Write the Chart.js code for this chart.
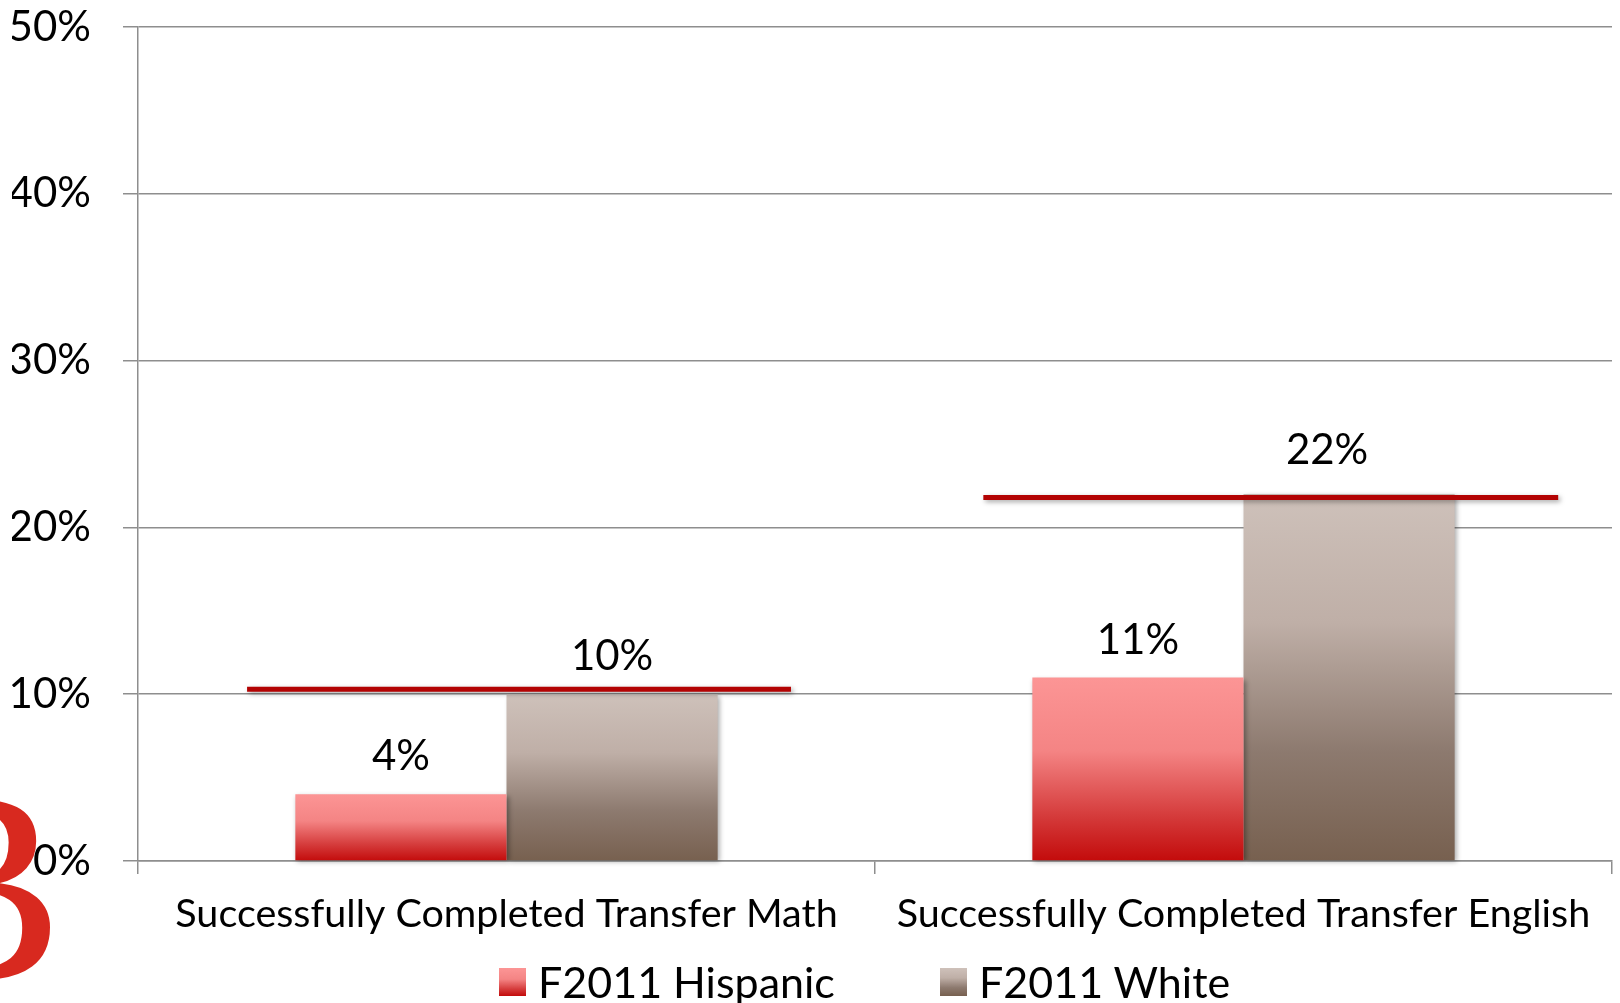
<!DOCTYPE html>
<html>
<head>
<meta charset="utf-8">
<title>Transfer Math / English</title>
<script src="https://cdn.jsdelivr.net/npm/chart.js@4.4.1/dist/chart.umd.min.js"></script>
<style>
  html, body { margin: 0; padding: 0; background: #fff; }
  #wrap { position: relative; width: 1620px; height: 1003px; overflow: hidden; font-family: Lato, sans-serif; }
  #logo { position: absolute; left: -120px; top: 749px; font-family: 'Liberation Serif', serif; font-size: 275px; line-height: 1; color: #d8291f; }
  #chart { position: absolute; left: 0; top: 0; }
  .leg { position: absolute; top: 960px; display: flex; align-items: center; font-size: 43px; line-height: 1; color: #000; white-space: nowrap; }
  .leg i { display: block; width: 27px; height: 28px; margin-right: 12px; }
</style>
</head>
<body>
<div id="wrap">
  <div id="logo">B</div>
  <canvas id="chart" width="1620" height="1003"></canvas>
  <div class="leg" style="left:499px"><i id="legA"></i><span id="legAText"></span></div>
  <div class="leg" style="left:940px"><i id="legB"></i><span id="legBText"></span></div>
</div>
<script>
const categories = ['Successfully Completed Transfer Math', 'Successfully Completed Transfer English'];
const seriesNames = ['F2011 Hispanic', 'F2011 White'];
const hispanic = [4, 11];
const white = [10, 22];
const refLine = [10.3, 21.8]; // the dark red bars drawn over each group
const yTicks = [0, 10, 20, 30, 40, 50];

const redStops = [[0, '#fc9595'], [0.4, '#f48484'], [0.75, '#d53c3c'], [1, '#c30b0b']];
const greyStops = [[0, '#cec1ba'], [0.35, '#bfafa7'], [0.7, '#8d7a6f'], [1, '#77604f']];
const gridColor = '#8e8e8e';

function barGradient(stops) {
  return function (c) {
    const chart = c.chart;
    if (!chart.chartArea || c.type !== 'data') return stops[0][1];
    const y = chart.scales.y;
    const g = chart.ctx.createLinearGradient(0, y.getPixelForValue(c.raw), 0, y.getPixelForValue(0));
    stops.forEach(s => g.addColorStop(s[0], s[1]));
    return g;
  };
}

function cssGradient(stops) {
  return 'linear-gradient(to bottom, ' + stops.map(s => s[1] + ' ' + (s[0] * 100) + '%').join(', ') + ')';
}

// shadows under bars, red reference lines and value labels
const decorations = {
  id: 'decorations',
  beforeDatasetsDraw(chart) {
    const ctx = chart.ctx;
    ctx.save();
    ctx.shadowColor = 'rgba(0,0,0,0.35)';
    ctx.shadowBlur = 5;
    ctx.shadowOffsetX = 2;
    ctx.shadowOffsetY = 2;
  },
  afterDatasetsDraw(chart, args, opts) {
    const ctx = chart.ctx;
    const x = chart.scales.x, y = chart.scales.y;
    const catW = x.width / categories.length;

    // red lines (still with shadow)
    ctx.strokeStyle = '#b30303';
    ctx.lineWidth = 5;
    refLine.forEach((v, i) => {
      const cx = x.getPixelForValue(i);
      const yy = y.getPixelForValue(v);
      ctx.beginPath();
      ctx.moveTo(cx + opts.span[i][0] * catW, yy);
      ctx.lineTo(cx + opts.span[i][1] * catW, yy);
      ctx.stroke();
    });
    ctx.restore();

    ctx.save();
    ctx.font = '42px Lato';
    ctx.fillStyle = '#000';
    ctx.textAlign = 'center';
    ctx.textBaseline = 'alphabetic';
    chart.data.datasets.forEach((ds, i) => {
      chart.getDatasetMeta(i).data.forEach((bar, j) => {
        const shift = opts.labelShift[i][j];
        ctx.fillText(ds.data[j] + '%', bar.x + shift[0], bar.y - 24 + shift[1]);
      });
    });
    ctx.restore();
  }
};

new Chart(document.getElementById('chart'), {
  type: 'bar',
  data: {
    labels: categories,
    datasets: [
      { label: seriesNames[0], data: hispanic, backgroundColor: barGradient(redStops), clip: false },
      { label: seriesNames[1], data: white, backgroundColor: barGradient(greyStops), clip: false }
    ]
  },
  options: {
    responsive: false,
    animation: false,
    events: [],
    categoryPercentage: 0.573,
    barPercentage: 1,
    layout: { padding: { left: 12, top: 27, right: 8, bottom: 0 } },
    plugins: {
      legend: { display: false },
      tooltip: { enabled: false },
      decorations: {
        span: [[-0.352, 0.386], [-0.353, 0.427]],
        labelShift: [[[0, 0], [0, 0]], [[0, 0], [-22, -6]]]
      }
    },
    scales: {
      x: {
        grid: { drawOnChartArea: false, color: gridColor, lineWidth: 1.5, tickLength: 13 },
        border: { color: gridColor, width: 1.5 },
        ticks: { padding: 17, color: '#000', font: { family: 'Lato', size: 39.5 }, maxRotation: 0, autoSkip: false },
        afterFit: s => { s.height = 142; s.paddingLeft = 0; s.paddingRight = 0; }
      },
      y: {
        min: 0,
        max: 50,
        afterBuildTicks: s => { s.ticks = yTicks.map(v => ({ value: v })); },
        grid: { color: gridColor, lineWidth: 1.5, tickLength: 15 },
        border: { color: gridColor, width: 1.5 },
        ticks: { padding: 32, color: '#000', font: { family: 'Lato', size: 42 }, callback: v => v + '%' },
        afterFit: s => { s.width = 126; s.paddingTop = 0; s.paddingBottom = 0; }
      }
    }
  },
  plugins: [decorations]
});

document.getElementById('legA').style.background = cssGradient(redStops);
document.getElementById('legB').style.background = cssGradient(greyStops);
document.getElementById('legAText').textContent = seriesNames[0];
document.getElementById('legBText').textContent = seriesNames[1];
</script>
</body>
</html>
